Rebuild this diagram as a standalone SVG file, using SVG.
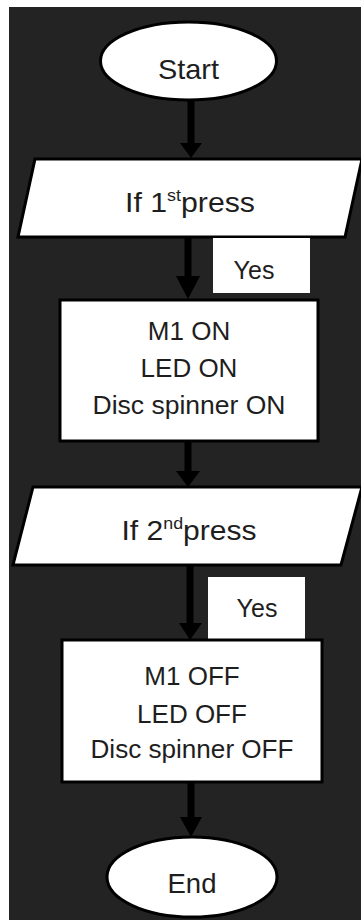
<svg xmlns="http://www.w3.org/2000/svg" width="361" height="921" viewBox="0 0 361 921">
<style>
.shape{fill:#ffffff;stroke:#000000;stroke-width:3}
.lbl{fill:#ffffff;stroke:none}
.t{font-family:"Liberation Sans","Open Sans",Arial,sans-serif;fill:#1e1e1e;text-anchor:middle}
.shaft{stroke:#000000;stroke-width:7;fill:none}
.head{fill:#000000}
</style>
<rect x="0" y="0" width="361" height="921" fill="#ffffff"/>
<rect x="9" y="7" width="352" height="913" fill="#232323"/>
<g id="connectors">
<line class="shaft" x1="191" y1="100" x2="191" y2="145"/>
<polygon class="head" points="180,143 202,143 191,158"/>
<line class="shaft" x1="188" y1="237" x2="188" y2="278"/>
<polygon class="head" points="176,276 200,276 188,299"/>
<line class="shaft" x1="188" y1="441" x2="188" y2="473"/>
<polygon class="head" points="176,471 200,471 188,487"/>
<line class="shaft" x1="190" y1="565" x2="190" y2="625"/>
<polygon class="head" points="179,623 202,623 190,640"/>
<line class="shaft" x1="191" y1="782" x2="191" y2="819"/>
<polygon class="head" points="180,817 202,817 191,837"/>
</g>
<g id="start">
<ellipse class="shape" cx="188.5" cy="61" rx="88" ry="39"/>
<text class="t" x="188.5" y="79" font-size="28" textLength="61" lengthAdjust="spacingAndGlyphs">Start</text>
</g>
<g id="if1">
<polygon class="shape" points="35,159 362,159 345,237 18,237"/>
<text class="t" x="190" y="212" font-size="27" textLength="130" lengthAdjust="spacingAndGlyphs">If 1<tspan font-size="16" dy="-11">st</tspan><tspan dy="11">press</tspan></text>
</g>
<g id="yes1">
<rect class="lbl" x="213" y="238" width="97" height="55"/>
<text class="t" x="254" y="279" font-size="25">Yes</text>
</g>
<g id="on">
<rect class="shape" x="60" y="300" width="258" height="141"/>
<text class="t" x="189" y="340" font-size="26">M1 ON</text>
<text class="t" x="189" y="377" font-size="26">LED ON</text>
<text class="t" x="189" y="414" font-size="26" textLength="193" lengthAdjust="spacingAndGlyphs">Disc spinner ON</text>
</g>
<g id="if2">
<polygon class="shape" points="33,487 362,487 341,565 13,565"/>
<text class="t" x="189" y="540" font-size="27" textLength="135" lengthAdjust="spacingAndGlyphs">If 2<tspan font-size="16" dy="-11">nd</tspan><tspan dy="11">press</tspan></text>
</g>
<g id="yes2">
<rect class="lbl" x="208" y="577" width="97" height="62"/>
<text class="t" x="257" y="617" font-size="25">Yes</text>
</g>
<g id="off">
<rect class="shape" x="62" y="640" width="260" height="142"/>
<text class="t" x="192" y="685" font-size="26">M1 OFF</text>
<text class="t" x="192" y="723" font-size="26">LED OFF</text>
<text class="t" x="192" y="758" font-size="26" textLength="203" lengthAdjust="spacingAndGlyphs">Disc spinner OFF</text>
</g>
<g id="end">
<ellipse class="shape" cx="192" cy="877" rx="85" ry="40"/>
<text class="t" x="192" y="893" font-size="28" textLength="49" lengthAdjust="spacingAndGlyphs">End</text>
</g>
</svg>
